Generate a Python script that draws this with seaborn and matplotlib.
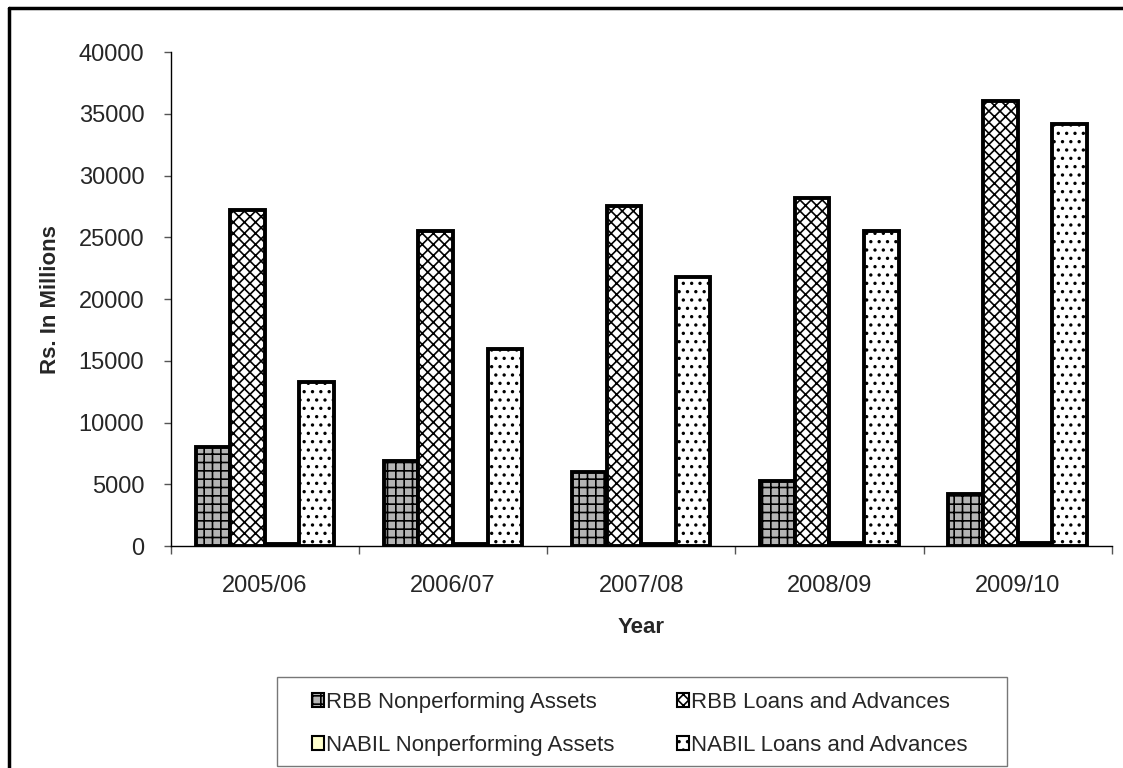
import pandas as pd
import matplotlib.pyplot as plt
import seaborn as sns
from matplotlib.lines import Line2D
from matplotlib.patches import Patch, Rectangle

years = ['2005/06', '2006/07', '2007/08', '2008/09', '2009/10']
rbb_npa = [8000, 6880, 5990, 5290, 4190]
rbb_loans = [27200, 25500, 27530, 28230, 36030]
nabil_npa = [140, 170, 180, 210, 250]
nabil_loans = [13300, 15930, 21800, 25480, 34170]

series = ['RBB Nonperforming Assets', 'RBB Loans and Advances',
          'NABIL Nonperforming Assets', 'NABIL Loans and Advances']
values = [rbb_npa, rbb_loans, nabil_npa, nabil_loans]

rows = []
for name, vals in zip(series, values):
    for y, v in zip(years, vals):
        rows.append({'Year': y, 'Series': name, 'Value': v})
df = pd.DataFrame(rows)

sns.set_style('white')
plt.rcParams['font.family'] = ['Liberation Sans', 'DejaVu Sans']
plt.rcParams['hatch.linewidth'] = 1.2

faces = ['#b4b4b4', 'white', '#ffffcc', 'white']
hatches = ['++', 'xxx', '', '..']

fig = plt.figure(figsize=(11.23, 7.68), dpi=100)
ax = fig.add_axes([0.152, 0.289, 0.838, 0.643])

sns.barplot(data=df, x='Year', y='Value', hue='Series', hue_order=series,
            palette=faces, width=0.735, edgecolor='black', linewidth=2.8,
            saturation=1, legend=False, ax=ax)

for cont, h in zip(ax.containers, hatches):
    for bar in cont:
        bar.set_hatch(h)

ax.set_ylim(0, 40000)
ax.set_yticks(range(0, 40001, 5000))
ax.set_xlim(-0.5, 4.5)
ax.set_xticks([i - 0.5 for i in range(6)])
ax.set_xticklabels([''] * 6)
ax.set_xticks(range(5), minor=True)
ax.set_xticklabels(years, minor=True)
ax.tick_params(axis='x', which='major', direction='out', length=6, width=1, color='#555555', bottom=True)
ax.tick_params(axis='x', which='minor', length=0, pad=21, labelsize=17)
ax.tick_params(axis='y', direction='out', length=5, width=1, color='#555555', pad=14, labelsize=17, left=True)

sns.despine(ax=ax)
ax.spines['left'].set_color('black')
ax.spines['bottom'].set_color('black')
ax.spines['left'].set_linewidth(1)
ax.spines['bottom'].set_linewidth(1)

ax.set_xlabel('Year', fontsize=16, fontweight='bold', labelpad=14)
ax.set_ylabel('Rs. In Millions', fontsize=16, fontweight='bold', labelpad=13)

# legend frame drawn separately
fig.add_artist(Rectangle((277 / 1123, (768 - 766) / 768), 730 / 1123, 89 / 768,
                         transform=fig.transFigure, facecolor='white',
                         edgecolor='#777777', lw=1))

handles = []
for f, h in zip(faces, hatches):
    handles.append(Patch(facecolor=f, edgecolor='black', hatch=h, linewidth=1.5))
order = [0, 2, 1, 3]
leg = fig.legend([handles[i] for i in order], [series[i] for i in order],
                 ncol=2, loc='upper left', bbox_to_anchor=(0.2778, 0.099),
                 frameon=False, fontsize=16,
                 handlelength=0.54, handleheight=0.54, handletextpad=0.1,
                 columnspacing=2.8, labelspacing=0.98, borderpad=0, borderaxespad=0)

# outer frame (left and top edges visible)
fig.add_artist(Line2D([0.008, 0.008], [0, 0.989], color='black', lw=2.5))
fig.add_artist(Line2D([0.008, 1.0], [0.989, 0.989], color='black', lw=2.5))

fig.savefig('out.png', dpi=100)
